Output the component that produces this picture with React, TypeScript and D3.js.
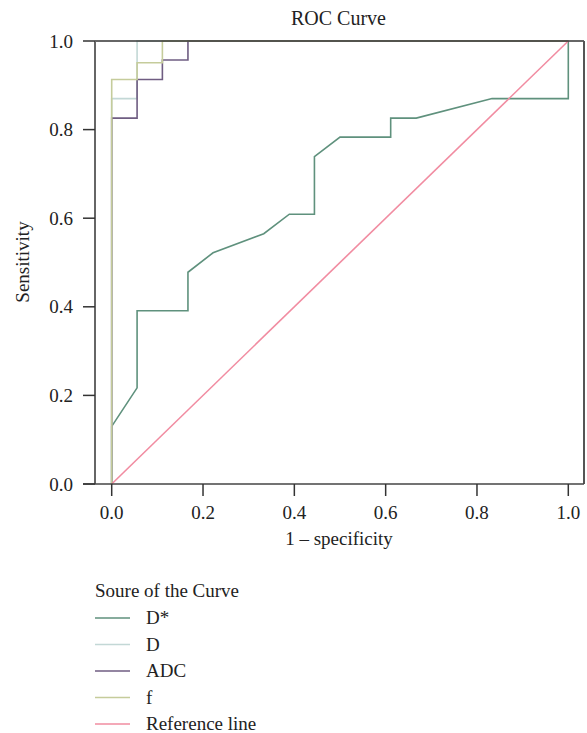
import React from 'react'
import * as d3 from 'd3';

// tick labels
const ticks = [0, 0.2, 0.4, 0.6, 0.8, 1.0];

// series names, in drawing order
const seriesNames = ["D*", "D", "ADC", "f", "Reference line"];
const seriesColors = ["#5f917d", "#c3d8d6", "#6f5d82", "#c5cc9b", "#f18ca1"];

// ROC points: [1 - specificity, sensitivity]
const dStar: [number, number][] = [
    [0, 0], [0, 0.130], [0.0556, 0.217], [0.0556, 0.391], [0.167, 0.391], [0.167, 0.478],
    [0.222, 0.522], [0.333, 0.565], [0.389, 0.609], [0.444, 0.609], [0.444, 0.739],
    [0.5, 0.783], [0.611, 0.783], [0.611, 0.826], [0.667, 0.826], [0.833, 0.870],
    [1, 0.870], [1, 1]
];
const dCurve: [number, number][] = [
    [0, 0], [0, 0.870], [0.0556, 0.870], [0.0556, 1], [1, 1]
];
const adc: [number, number][] = [
    [0, 0], [0, 0.826], [0.0556, 0.826], [0.0556, 0.913], [0.111, 0.913], [0.111, 0.957],
    [0.167, 0.957], [0.167, 1], [1, 1]
];
const fCurve: [number, number][] = [
    [0, 0], [0, 0.913], [0.0556, 0.913], [0.0556, 0.951], [0.111, 0.951], [0.111, 1], [1, 1]
];
const refLine: [number, number][] = [[0, 0], [1, 1]];

const seriesData = [dStar, dCurve, adc, fCurve, refLine];

export default function App() {
    // svg dimensions
    const width = 587;
    const height = 733;
    const font = "'Liberation Serif', 'Times New Roman', serif";

    // frame edges
    const left = 95, right = 584, top = 41, bottom = 484;

    const x = d3.scaleLinear().domain([0, 1]).range([111.7, 568.3]);
    const y = d3.scaleLinear().domain([0, 1]).range([bottom, top]);

    const line = d3.line<[number, number]>()
        .x(d => x(d[0]))
        .y(d => y(d[1]));

    return (
        <svg width={width} height={height} style={{ position: 'absolute', left: 0, top: 0 }}
            fontFamily={font} fontSize={19} fill="#222">
            <rect width={width} height={height} fill="white" />

            {/* title */}
            <text x={338.5} y={25} textAnchor="middle" fontSize={20}>ROC Curve</text>

            {/* curves */}
            {seriesData.map((d, i) => (
                <path key={seriesNames[i]} d={line(d) || ""} fill="none"
                    stroke={seriesColors[i]} strokeWidth={1.6} />
            ))}

            {/* frame */}
            <line x1={left} x2={right} y1={top} y2={top} stroke="#333" strokeWidth={1.5} />
            <line x1={right} x2={right} y1={top} y2={bottom} stroke="#555" strokeWidth={2} />
            <line x1={left} x2={left} y1={top} y2={bottom} stroke="#666" strokeWidth={2} />
            <line x1={83} x2={right} y1={bottom} y2={bottom} stroke="#444" strokeWidth={1.5} />

            {/* y axis */}
            {ticks.map(t => (
                <g key={"y" + t}>
                    <line x1={83} x2={left} y1={y(t)} y2={y(t)} stroke="#333" strokeWidth={1.5} />
                    <text x={73} y={y(t) + 6.5} textAnchor="end">{t.toFixed(1)}</text>
                </g>
            ))}

            {/* x axis */}
            {ticks.map(t => (
                <g key={"x" + t}>
                    <line x1={x(t)} x2={x(t)} y1={bottom} y2={bottom + 12} stroke="#333" strokeWidth={1.5} />
                    <text x={x(t)} y={519} textAnchor="middle">{t.toFixed(1)}</text>
                </g>
            ))}

            <text x={339} y={545} textAnchor="middle">1 – specificity</text>
            <text transform="translate(29,262) rotate(-90)" textAnchor="middle">Sensitivity</text>

            {/* legend */}
            <text x={95} y={597}>Soure of the Curve</text>
            {seriesNames.map((name, i) => (
                <g key={"leg" + name} transform={`translate(0, ${618 + i * 26.5})`}>
                    <line x1={95} x2={130} y1={0} y2={0} stroke={seriesColors[i]} strokeWidth={1.6} />
                    <text x={146} y={6}>{name}</text>
                </g>
            ))}
        </svg>
    );
}
